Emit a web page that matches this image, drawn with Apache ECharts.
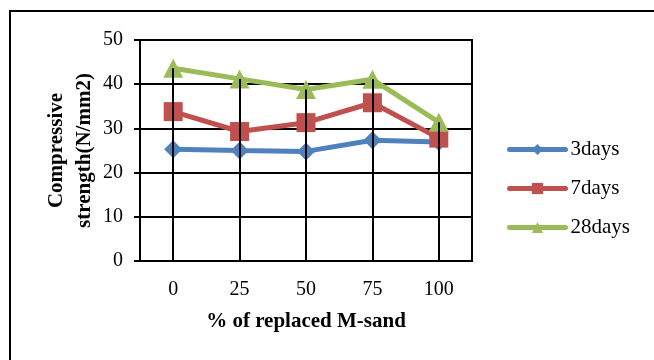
<!DOCTYPE html>
<html>
<head>
<meta charset="utf-8">
<script src="https://cdn.jsdelivr.net/npm/echarts@6/dist/echarts.min.js"></script>
<style>
html,body{margin:0;padding:0;background:#fff;}
#chart{width:654px;height:360px;}
</style>
</head>
<body>
<div id="chart"></div>
<script>
var categories = ['0', '25', '50', '75', '100'];
var days3 = [25.3, 25.0, 24.8, 27.3, 26.9];
var days7 = [33.8, 29.3, 31.3, 35.8, 27.8];
var days28 = [43.6, 41.2, 38.8, 41.1, 31.4];
var seriesNames = ['3days', '7days', '28days'];
var yTicks = [0, 10, 20, 30, 40, 50];

var FONT = 'Liberation Serif, Times New Roman, serif';
var colors = ['#4F81BD', '#C0504D', '#9BBB59'];

// drop lines from axis up to the highest value per category
var dropLines = categories.map(function (c, i) {
  var top = Math.max(days3[i], days7[i], days28[i]);
  return [{ xAxis: c, yAxis: 0 }, { xAxis: c, yAxis: top }];
});

var chart = echarts.init(document.getElementById('chart'), null, { renderer: 'canvas' });
chart.setOption({
  animation: false,
  backgroundColor: '#fff',
  color: colors,
  graphic: [{
    type: 'rect',
    shape: { x: 10, y: 11, width: 700, height: 400 },
    style: { fill: 'none', stroke: '#000', lineWidth: 2 },
    silent: true
  }],
  grid: {
    left: 140, right: 182, top: 40, bottom: 99,
    show: true, borderColor: '#000', borderWidth: 2, backgroundColor: 'transparent'
  },
  legend: {
    orient: 'vertical',
    left: 502,
    top: 134,
    itemWidth: 56,
    itemHeight: 14,
    itemGap: 18,
    data: seriesNames,
    lineStyle: { width: 5, cap: 'round' },
    textStyle: { fontFamily: FONT, fontSize: 21, color: '#000' }
  },
  xAxis: {
    type: 'category',
    data: categories,
    boundaryGap: true,
    name: '% of replaced M-sand',
    nameLocation: 'middle',
    nameGap: 50,
    nameTextStyle: { fontFamily: FONT, fontSize: 21, fontWeight: 'bold', color: '#000' },
    axisLine: { lineStyle: { color: '#000', width: 2 } },
    axisTick: { show: false },
    axisLabel: { fontFamily: FONT, fontSize: 20, color: '#000', margin: 19 },
    splitLine: { show: false }
  },
  yAxis: {
    type: 'value',
    min: yTicks[0],
    max: yTicks[yTicks.length - 1],
    interval: 10,
    name: 'Compressive\nstrength(N/mm2)',
    nameLocation: 'middle',
    nameGap: 41,
    nameMoveOverlap: false,
    nameTextStyle: { fontFamily: FONT, fontSize: 21, fontWeight: 'bold', color: '#000', lineHeight: 28, align: 'center' },
    axisLine: { show: true, lineStyle: { color: '#000', width: 2 } },
    axisTick: { show: true, length: 6, lineStyle: { color: '#000', width: 2 } },
    axisLabel: { fontFamily: FONT, fontSize: 20, color: '#000', margin: 17 },
    splitLine: { show: true, lineStyle: { color: '#000', width: 2 } }
  },
  series: [
    {
      name: seriesNames[0], type: 'line', data: days3,
      symbol: 'diamond', symbolSize: [18, 18],
      lineStyle: { width: 5, color: colors[0] },
      itemStyle: { color: colors[0] }
    },
    {
      name: seriesNames[1], type: 'line', data: days7,
      symbol: 'rect', symbolSize: [19, 19],
      lineStyle: { width: 5, color: colors[1] },
      itemStyle: { color: colors[1] }
    },
    {
      name: seriesNames[2], type: 'line', data: days28,
      symbol: 'triangle', symbolSize: [20, 19],
      lineStyle: { width: 5, color: colors[2] },
      itemStyle: { color: colors[2] },
      markLine: {
        silent: true,
        symbol: ['none', 'none'],
        label: { show: false },
        emphasis: { disabled: true },
        lineStyle: { color: '#000', width: 2, type: 'solid' },
        data: dropLines
      }
    }
  ]
});
</script>
</body>
</html>
